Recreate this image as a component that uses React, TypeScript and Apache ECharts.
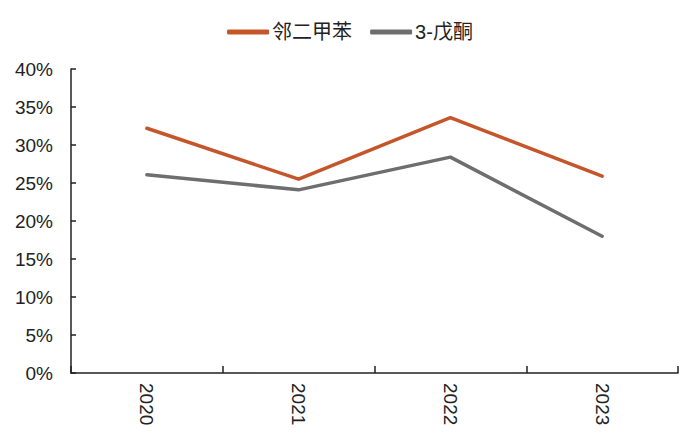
import React, { useEffect, useRef } from 'react';
import * as echarts from 'echarts';

// 数据
const years = ['2020', '2021', '2022', '2023'];
const oXylene = [32.2, 25.5, 33.6, 25.9];
const pentanone = [26.1, 24.1, 28.4, 18.0];
const seriesNames = ['邻二甲苯', '3-戊酮'];

const FONT = '"Liberation Sans", Arial, "Noto Sans CJK SC", sans-serif';

const App: React.FC = () => {
  const chartRef = useRef<HTMLDivElement>(null);

  useEffect(() => {
    document.body.style.margin = '0';
    if (!chartRef.current) return;
    const chart = echarts.init(chartRef.current, undefined, { renderer: 'svg' });

    const options: echarts.EChartsOption = {
      animation: false,
      backgroundColor: '#ffffff',
      textStyle: { fontFamily: FONT },
      legend: {
        data: seriesNames,
        left: 'center',
        top: 17,
        icon: 'roundRect',
        itemWidth: 42,
        itemHeight: 5,
        itemGap: 18,
        textStyle: { fontSize: 20, color: '#222', fontFamily: FONT, padding: [0, 0, 0, -2] }
      },
      grid: {
        left: 71,
        right: 22,
        top: 69,
        bottom: 71,
        containLabel: false
      },
      xAxis: {
        type: 'category',
        data: years,
        boundaryGap: true,
        axisLine: { show: true, lineStyle: { color: '#222', width: 1.5 } },
        axisTick: { show: true, inside: true, length: 7, lineStyle: { color: '#222', width: 1.5 } },
        axisLabel: { rotate: -90, margin: 10, fontSize: 19, color: '#222', fontFamily: FONT },
        splitLine: { show: false }
      },
      yAxis: {
        type: 'value',
        min: 0,
        max: 40,
        interval: 5,
        axisLine: { show: true, lineStyle: { color: '#222', width: 1.5 } },
        axisTick: { show: true, inside: true, length: 5, lineStyle: { color: '#222', width: 1.5 } },
        axisLabel: { formatter: '{value}%', margin: 18, fontSize: 19, color: '#222', fontFamily: FONT },
        splitLine: { show: false }
      },
      series: [
        {
          name: seriesNames[0],
          type: 'line',
          data: oXylene,
          symbol: 'none',
          color: '#C5562B',
          lineStyle: { width: 3.5, color: '#C5562B', cap: 'round', join: 'round' }
        },
        {
          name: seriesNames[1],
          type: 'line',
          data: pentanone,
          symbol: 'none',
          color: '#6E6E6E',
          lineStyle: { width: 3.5, color: '#6E6E6E', cap: 'round', join: 'round' }
        }
      ]
    };

    chart.setOption(options);

    return () => {
      chart.dispose();
    };
  }, []);

  return <div ref={chartRef} style={{ width: 700, height: 444 }} />;
};

export default App;
